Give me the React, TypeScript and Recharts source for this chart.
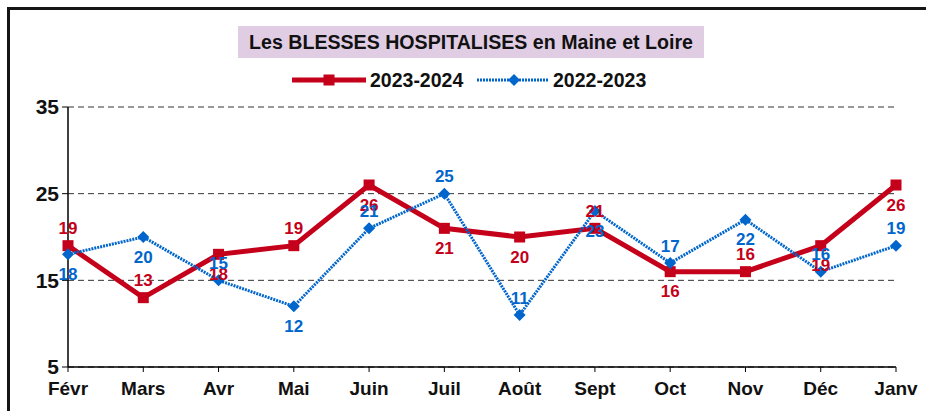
import { LineChart, Line, XAxis, YAxis, CartesianGrid, LabelList } from "recharts";

const months = ["Févr", "Mars", "Avr", "Mai", "Juin", "Juil", "Août", "Sept", "Oct", "Nov", "Déc", "Janv"];
const season2324 = [19, 13, 18, 19, 26, 21, 20, 21, 16, 16, 19, 26];
const season2223 = [18, 20, 15, 12, 21, 25, 11, 23, 17, 22, 16, 19];
// where each data label sits relative to its point
const side2324 = ["up", "up", "down", "up", "down", "down", "down", "up", "down", "up", "down", "down"];
const side2223 = ["down", "down", "up", "down", "up", "up", "up", "down", "up", "down", "up", "up"];
const yTicks = [5, 15, 25, 35];

const RED = "#C4001A";
const BLUE = "#0066CC";
const FONT = "'Liberation Sans', Arial, sans-serif";

const data = months.map((m, i) => ({ month: m, a: season2324[i], b: season2223[i] }));

const makeLabel = (sides: string[], color: string) => (props: any) => {
  const { x, y, value, index } = props;
  const dy = sides[index] === "up" ? -17 : 20;
  return (
    <text
      x={x}
      y={y + dy}
      textAnchor="middle"
      dominantBaseline="central"
      fill={color}
      fontSize={17}
      fontWeight="bold"
      fontFamily={FONT}
    >
      {value}
    </text>
  );
};

const SquareDot = (props: any) => {
  const { cx, cy } = props;
  return <rect x={cx - 5.5} y={cy - 5.5} width={11} height={11} fill={RED} />;
};

const DiamondDot = (props: any) => {
  const { cx, cy } = props;
  return <path d={`M${cx},${cy - 6} L${cx + 6},${cy} L${cx},${cy + 6} L${cx - 6},${cy} Z`} fill={BLUE} />;
};

export default function App() {
  return (
    <div style={{ position: "absolute", left: 0, top: 0, width: 926, height: 411, background: "#fff", overflow: "hidden", fontFamily: FONT }}>
      <style>{"body{margin:0}"}</style>
      <div style={{ position: "absolute", left: 7, top: 7, width: 1000, height: 500, borderTop: "3px solid #151515", borderLeft: "3px solid #151515" }} />
      <div
        style={{
          position: "absolute", left: 238, top: 26, width: 466, height: 32, background: "#E0CDE4",
          display: "flex", alignItems: "center", justifyContent: "center",
          fontSize: 19.6, fontWeight: "bold", color: "#111",
        }}
      >
        Les BLESSES HOSPITALISES en Maine et Loire
      </div>
      <svg style={{ position: "absolute", left: 0, top: 0 }} width={926} height={411}>
        <line x1={292} y1={80} x2={366} y2={80} stroke={RED} strokeWidth={5} />
        <rect x={323.5} y={74.5} width={11} height={11} fill={RED} />
        <text x={370} y={87} fontSize={19.5} fontWeight="bold" fontFamily={FONT} fill="#111">2023-2024</text>
        <line x1={477} y1={80} x2={549} y2={80} stroke={BLUE} strokeWidth={3} strokeDasharray="2 1" />
        <path d="M514,74 L520,80 L514,86 L508,80 Z" fill={BLUE} />
        <text x={553} y={87} fontSize={19.5} fontWeight="bold" fontFamily={FONT} fill="#111">2022-2023</text>
      </svg>
      <div style={{ position: "absolute", left: 0, top: 0 }}>
        <LineChart width={926} height={411} data={data} margin={{ top: 107, right: 30, bottom: 14, left: 0 }}>
          <CartesianGrid vertical={false} stroke="#333" strokeDasharray="6 4" />
          <XAxis
            dataKey="month"
            height={30}
            axisLine={{ stroke: "#000", strokeWidth: 1.5 }}
            tickLine={{ stroke: "#000" }}
            tickSize={5}
            tickMargin={10}
            tick={{ fill: "#111", fontSize: 19, fontWeight: "bold", fontFamily: FONT }}
            interval={0}
          />
          <YAxis
            width={68}
            domain={[5, 35]}
            ticks={yTicks}
            axisLine={{ stroke: "#000", strokeWidth: 1.5 }}
            tickLine={{ stroke: "#000" }}
            tickSize={6}
            tickMargin={3}
            tick={{ fill: "#111", fontSize: 21, fontWeight: "bold", fontFamily: FONT }}
          />
          <Line dataKey="a" stroke={RED} strokeWidth={5} dot={<SquareDot />} activeDot={false} isAnimationActive={false} />
          <Line dataKey="b" stroke={BLUE} strokeWidth={3} strokeDasharray="2 1" dot={<DiamondDot />} activeDot={false} isAnimationActive={false} />
          <Line dataKey="a" stroke="none" dot={false} activeDot={false} isAnimationActive={false}>
            <LabelList dataKey="a" content={makeLabel(side2324, RED)} />
          </Line>
          <Line dataKey="b" stroke="none" dot={false} activeDot={false} isAnimationActive={false}>
            <LabelList dataKey="b" content={makeLabel(side2223, BLUE)} />
          </Line>
        </LineChart>
      </div>
    </div>
  );
}
